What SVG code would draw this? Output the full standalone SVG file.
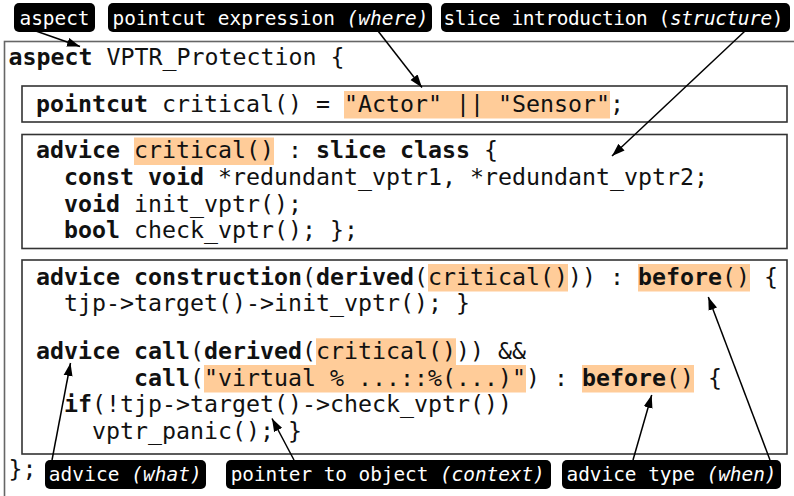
<svg xmlns="http://www.w3.org/2000/svg" width="794" height="496" viewBox="0 0 794 496">
<style>
.code{font-family:"DejaVu Sans Mono","Liberation Mono",monospace;font-size:23.25px;fill:#111}
.b{font-weight:bold}
.hl{fill:#ffcc99}
.box{fill:none;stroke:#333;stroke-width:1.6}
.outer{fill:none;stroke:#666;stroke-width:1.6}
.lbl{fill:#000}
.lt{font-family:"DejaVu Sans Mono","Liberation Mono",monospace;font-size:19.4px;fill:#fff}
.i{font-style:italic}
.arr{stroke:#000;stroke-width:1.5;fill:none;marker-end:url(#ah)}
</style>
<defs>
<marker id="ah" markerUnits="userSpaceOnUse" markerWidth="14" markerHeight="10" refX="13" refY="5" orient="auto">
<path d="M0,0.5 L13,5 L0,9.5 z" fill="#000"/>
</marker>
</defs>
<rect width="794" height="496" fill="#fff"/>
<g id="aspect-block" xml:space="preserve">
<rect class="outer" x="4.5" y="41.5" width="820" height="480"/>
<text class="code" x="8.5" y="65"><tspan class="b">aspect</tspan> VPTR_Protection {</text>
<text class="code" x="8.5" y="477">};</text>
</g>
<g id="pointcut-block" xml:space="preserve">
<rect class="hl" x="344" y="91" width="266" height="27.5"/>
<rect class="box" x="22" y="86" width="765" height="36"/>
<text class="code" x="36" y="111.5"><tspan class="b">pointcut</tspan> critical() = "Actor" || "Sensor";</text>
</g>
<g id="slice-block" xml:space="preserve">
<rect class="hl" x="134" y="137.5" width="140" height="27.5"/>
<rect class="box" x="22" y="134.5" width="765" height="114"/>
<text class="code" x="36" y="158.3"><tspan class="b">advice</tspan> critical() : <tspan class="b">slice class</tspan> {</text>
<text class="code" x="64" y="185"><tspan class="b">const void</tspan> *redundant_vptr1, *redundant_vptr2;</text>
<text class="code" x="64" y="211.7"><tspan class="b">void</tspan> init_vptr();</text>
<text class="code" x="64" y="238.4"><tspan class="b">bool</tspan> check_vptr(); };</text>
</g>
<g id="advice-block" xml:space="preserve">
<rect class="hl" x="428" y="264" width="140" height="27.5"/>
<rect class="hl" x="638" y="264" width="112" height="27.5"/>
<rect class="hl" x="316" y="338.3" width="140" height="26.7"/>
<rect class="hl" x="204" y="365" width="322" height="27.5"/>
<rect class="hl" x="582" y="365" width="112" height="27.5"/>
<rect class="box" x="22" y="260" width="765" height="194"/>
<text class="code" x="36" y="284.5"><tspan class="b">advice construction</tspan>(<tspan class="b">derived</tspan>(critical())) : <tspan class="b">before</tspan>() {</text>
<text class="code" x="64" y="311.2">tjp-&gt;target()-&gt;init_vptr(); }</text>
<text class="code" x="36" y="359"><tspan class="b">advice call</tspan>(<tspan class="b">derived</tspan>(critical())) &amp;&amp;</text>
<text class="code" x="134" y="385.7"><tspan class="b">call</tspan>("virtual % ...::%(...)") : <tspan class="b">before</tspan>() {</text>
<text class="code" x="64" y="412.3"><tspan class="b">if</tspan>(!tjp-&gt;target()-&gt;check_vptr())</text>
<text class="code" x="92" y="439">vptr_panic(); }</text>
</g>
<g id="connectors">
<line class="arr" x1="33" y1="30" x2="80" y2="46.5"/>
<line class="arr" x1="378" y1="31" x2="422" y2="87.5"/>
<line class="arr" x1="745" y1="31" x2="612" y2="156"/>
<line class="arr" x1="52" y1="460" x2="70.5" y2="363"/>
<line class="arr" x1="294" y1="460" x2="272" y2="418.5"/>
<line class="arr" x1="770" y1="460" x2="708.3" y2="297"/>
<line class="arr" x1="633" y1="460" x2="651.7" y2="395"/>
</g>
<g id="label-aspect" xml:space="preserve">
<rect class="lbl" x="14" y="3" width="81" height="29" rx="5"/>
<text class="lt" x="19.5" y="25" textLength="70" lengthAdjust="spacing">aspect</text>
</g>
<g id="label-pointcut" xml:space="preserve">
<rect class="lbl" x="108" y="3" width="324" height="29" rx="5"/>
<text class="lt" x="112.5" y="25" textLength="316" lengthAdjust="spacing">pointcut expression <tspan class="i">(where)</tspan></text>
</g>
<g id="label-slice" xml:space="preserve">
<rect class="lbl" x="441" y="3" width="349" height="29" rx="5"/>
<text class="lt" x="443.5" y="25" textLength="340" lengthAdjust="spacing">slice introduction (<tspan class="i">structure</tspan>)</text>
</g>
<g id="label-advice" xml:space="preserve">
<rect class="lbl" x="45" y="460" width="161" height="29" rx="5"/>
<text class="lt" x="48.8" y="481" textLength="153" lengthAdjust="spacing">advice <tspan class="i">(what)</tspan></text>
</g>
<g id="label-pointer" xml:space="preserve">
<rect class="lbl" x="226" y="460" width="325" height="29" rx="5"/>
<text class="lt" x="230.7" y="481" textLength="314" lengthAdjust="spacing">pointer to object <tspan class="i">(context)</tspan></text>
</g>
<g id="label-type" xml:space="preserve">
<rect class="lbl" x="562" y="460" width="219" height="29" rx="5"/>
<text class="lt" x="566.5" y="481" textLength="210" lengthAdjust="spacing">advice type <tspan class="i">(when)</tspan></text>
</g>
</svg>
